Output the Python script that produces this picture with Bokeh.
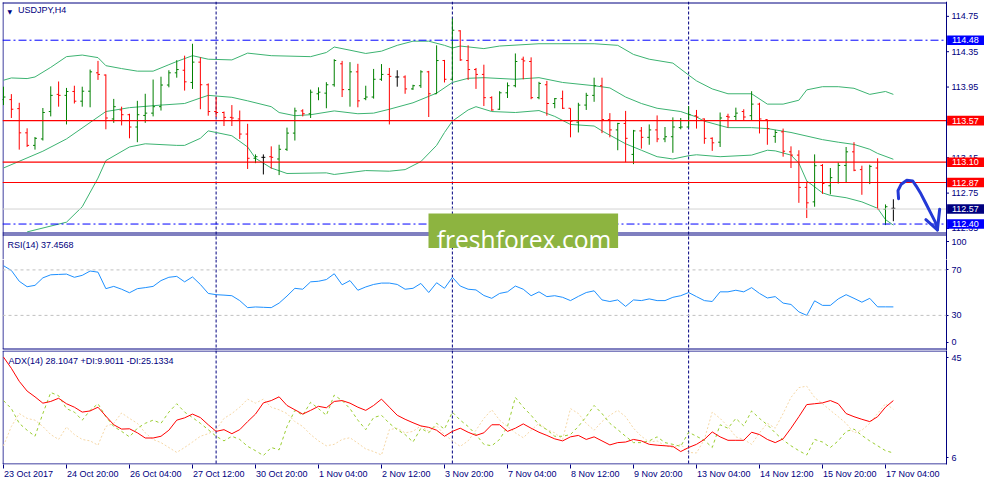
from bokeh.plotting import figure
from bokeh.models import Range1d, FixedTicker, Span, Label, ColumnDataSource, LinearAxis
from bokeh.layouts import column
from bokeh.embed import file_html
from bokeh.resources import INLINE
from bokeh.core.properties import value

# ---------------- data (USDJPY H4, bar index 0 = 23 Oct 2017 12:00) ----------------
bar_open = [113.808, 113.808, 113.706, 113.432, 113.290, 113.363, 113.673, 113.867, 113.856, 113.900,
            113.790, 113.903, 114.111, 114.086, 113.589, 113.691, 113.637, 113.498, 113.629, 113.655,
            113.728, 113.973, 114.111, 114.140, 114.002, 114.232, 113.976, 113.673, 113.662, 113.607,
            113.589, 113.418, 113.144, 113.155, 113.162, 113.136, 113.246, 113.429, 113.680, 113.648,
            113.874, 113.881, 113.976, 114.213, 113.921, 114.122, 113.819, 113.837, 114.038, 114.093,
            114.064, 114.064, 113.929, 113.965, 114.122, 113.874, 114.250, 114.038, 114.586, 114.250,
            114.148, 114.093, 113.830, 113.699, 113.885, 113.965, 114.265, 114.239, 113.830, 113.976,
            113.764, 113.819, 113.710, 113.553, 113.746, 113.856, 113.965, 113.582, 113.465, 113.538,
            113.188, 113.454, 113.381, 113.465, 113.363, 113.388, 113.491, 113.498, 113.626, 113.589,
            113.370, 113.326, 113.618, 113.618, 113.673, 113.626, 113.757, 113.582, 113.392, 113.443,
            113.217, 113.180, 112.815, 112.651, 113.063, 112.833, 112.870, 113.063, 113.217, 113.016,
            112.870, 113.034, 112.567, 112.578]
bar_high = [113.954, 113.870, 113.772, 113.483, 113.385, 113.713, 113.958, 114.013, 113.940, 113.965,
            113.954, 114.148, 114.246, 114.093, 113.816, 113.728, 113.648, 113.794, 113.874, 114.035,
            114.067, 114.140, 114.254, 114.305, 114.440, 114.286, 113.991, 113.837, 113.673, 113.746,
            113.684, 113.534, 113.188, 113.188, 113.279, 113.297, 113.491, 113.717, 113.699, 113.921,
            113.947, 114.005, 114.265, 114.246, 114.232, 114.213, 113.965, 114.155, 114.210, 114.166,
            114.140, 114.082, 113.976, 114.140, 114.133, 114.422, 114.257, 114.725, 114.593, 114.422,
            114.166, 114.203, 113.845, 113.903, 114.002, 114.330, 114.294, 114.286, 114.009, 114.020,
            113.826, 113.910, 113.710, 113.772, 113.885, 114.056, 114.056, 113.655, 113.545, 113.680,
            113.465, 113.498, 113.527, 113.629, 113.498, 113.607, 113.600, 113.735, 113.691, 113.595,
            113.381, 113.662, 113.648, 113.717, 113.699, 113.903, 113.772, 113.582, 113.465, 113.480,
            113.279, 113.235, 112.881, 113.188, 113.078, 113.034, 113.096, 113.272, 113.326, 113.060,
            113.071, 113.144, 112.622, 112.680]
bar_low = [113.746, 113.600, 113.242, 113.272, 113.242, 113.345, 113.618, 113.728, 113.527, 113.764,
           113.728, 113.721, 114.031, 113.472, 113.545, 113.516, 113.370, 113.326, 113.545, 113.618,
           113.684, 113.947, 114.056, 113.910, 113.929, 113.699, 113.626, 113.611, 113.509, 113.509,
           113.363, 113.023, 113.089, 112.961, 113.027, 112.954, 113.228, 113.345, 113.618, 113.600,
           113.801, 113.710, 113.954, 113.837, 113.728, 113.721, 113.801, 113.819, 114.020, 113.527,
           113.954, 113.874, 113.918, 113.940, 113.611, 113.874, 114.002, 114.020, 114.246, 114.031,
           113.929, 113.735, 113.680, 113.691, 113.826, 113.947, 114.038, 113.812, 113.812, 113.626,
           113.710, 113.702, 113.381, 113.436, 113.691, 113.783, 113.429, 113.381, 113.235, 113.100,
           113.078, 113.253, 113.297, 113.326, 113.326, 113.206, 113.472, 113.491, 113.480, 113.308,
           113.228, 113.272, 113.491, 113.575, 113.575, 113.575, 113.425, 113.297, 113.319, 113.162,
           113.034, 112.640, 112.468, 112.596, 112.742, 112.735, 112.859, 112.870, 112.998, 112.731,
           112.852, 112.567, 112.388, 112.432]
bar_close = [113.837, 113.699, 113.432, 113.290, 113.370, 113.662, 113.856, 113.856, 113.900, 113.790,
             113.903, 114.122, 114.093, 113.600, 113.728, 113.637, 113.498, 113.637, 113.655, 113.728,
             113.973, 114.111, 114.148, 114.009, 114.232, 113.976, 113.673, 113.662, 113.607, 113.600,
             113.418, 113.144, 113.162, 113.155, 113.155, 113.246, 113.429, 113.680, 113.648, 113.892,
             113.892, 113.976, 114.250, 113.921, 114.122, 113.794, 113.837, 114.038, 114.093, 114.071,
             114.064, 113.929, 113.965, 114.122, 113.874, 114.250, 114.038, 114.593, 114.257, 114.148,
             114.093, 113.830, 113.691, 113.885, 113.965, 114.239, 114.246, 113.830, 113.991, 113.764,
             113.819, 113.710, 113.564, 113.746, 113.856, 113.965, 113.582, 113.465, 113.538, 113.370,
             113.454, 113.381, 113.465, 113.363, 113.388, 113.498, 113.498, 113.637, 113.611, 113.370,
             113.319, 113.600, 113.611, 113.655, 113.611, 113.757, 113.589, 113.480, 113.436, 113.224,
             113.180, 112.815, 112.640, 113.060, 112.859, 112.925, 113.063, 113.217, 113.009, 112.870,
             113.052, 112.567, 112.596, 112.578]

bb_up_x = [0, 1, 3, 4, 6, 8, 10, 12, 13, 15, 17, 19, 21, 22, 24, 26, 29, 31, 34, 39, 41, 42, 44, 46, 48, 50,
           52, 54, 56, 57, 58, 61, 63, 68, 75, 78, 80, 82, 85, 87, 88, 90, 92, 95, 97, 99, 101, 102, 104,
           106, 108, 110, 112, 113]
bb_up = [114.027, 114.053, 114.046, 114.064, 114.173, 114.294, 114.312, 114.283, 114.192, 114.159, 114.130,
         114.130, 114.203, 114.239, 114.305, 114.265, 114.257, 114.334, 114.305, 114.294, 114.341, 114.403,
         114.367, 114.330, 114.356, 114.422, 114.469, 114.469, 114.422, 114.392, 114.414, 114.385, 114.414,
         114.440, 114.440, 114.422, 114.319, 114.265, 114.221, 114.086, 114.020, 113.929, 113.874, 113.874,
         113.757, 113.757, 113.801, 113.918, 113.954, 113.954, 113.936, 113.867, 113.900, 113.867]
bb_mid_x = [0, 5, 8, 12, 13, 16, 20, 23, 25, 26, 29, 31, 34, 35, 37, 39, 42, 45, 47, 49, 52, 55, 57, 59, 61,
            65, 68, 71, 75, 77, 79, 81, 83, 86, 88, 89, 92, 95, 97, 100, 104, 106, 108, 110, 111, 113]
bb_mid = [113.034, 113.224, 113.363, 113.611, 113.673, 113.717, 113.746, 113.764, 113.826, 113.856, 113.834,
          113.794, 113.728, 113.662, 113.626, 113.637, 113.680, 113.648, 113.655, 113.699, 113.772, 113.881,
          114.002, 114.049, 114.056, 114.038, 114.056, 114.002, 113.965, 113.940, 113.837, 113.764, 113.710,
          113.673, 113.611, 113.564, 113.491, 113.491, 113.480, 113.436, 113.355, 113.326, 113.301, 113.246,
          113.199, 113.133]
# lower band: first visible point (it runs below the price window before bar 3)
bb_low_x = [3, 8, 10, 12, 13, 16, 18, 22, 23, 25, 26, 29, 31, 32, 34, 36, 41, 42, 46, 49, 51, 53, 55, 56,
            57, 59, 60, 62, 65, 68, 70, 72, 75, 76, 79, 81, 83, 85, 87, 88, 91, 95, 97, 98, 100, 101, 102,
            104, 105, 107, 109, 111, 112, 113]
bb_low = [112.311, 112.421, 112.596, 112.920, 113.118, 113.272, 113.308, 113.290, 113.290, 113.370,
          113.454, 113.399, 113.272, 113.144, 113.034, 112.972, 112.979, 112.961, 113.005, 112.998, 113.016,
          113.107, 113.290, 113.436, 113.564, 113.691, 113.728, 113.673, 113.662, 113.684, 113.618, 113.527,
          113.509, 113.454, 113.308, 113.235, 113.162, 113.136, 113.173, 113.184, 113.162, 113.180, 113.235,
          113.228, 113.180, 113.089, 112.888, 112.753, 112.724, 112.698, 112.651, 112.578, 112.450, 112.388]

rsi = [73.7, 69.5, 60.0, 55.2, 56.4, 63.0, 65.7, 66.0, 66.3, 63.5,
       65.2, 69.0, 68.0, 53.5, 55.5, 53.0, 49.9, 53.5, 54.4, 55.5,
       60.6, 63.5, 64.3, 59.5, 63.8, 57.2, 49.3, 48.2, 47.8, 47.3,
       43.0, 36.8, 37.4, 37.1, 36.8, 40.8, 47.0, 53.8, 53.0, 59.5,
       60.0, 61.5, 66.6, 56.9, 60.6, 52.1, 55.0, 57.2, 58.4, 58.4,
       57.2, 53.0, 53.8, 58.1, 50.1, 58.7, 53.8, 63.5, 55.8, 53.0,
       52.4, 47.5, 45.0, 49.3, 50.7, 55.8, 53.0, 47.3, 50.7, 46.5,
       47.3, 45.9, 43.0, 46.7, 50.1, 51.6, 43.6, 42.2, 43.6, 37.9,
       43.6, 43.0, 44.5, 43.0, 43.0, 45.9, 47.3, 50.1, 46.5, 43.0,
       42.2, 50.7, 50.7, 52.1, 50.7, 54.4, 49.3, 45.3, 46.5, 40.8,
       39.6, 33.1, 30.0, 42.8, 38.8, 38.8, 44.5, 48.2, 45.0, 41.6,
       45.0, 37.5, 37.5, 37.46]
adx = [43.2, 39.3, 34.8, 31.4, 29.4, 27.2, 27.8, 28.9, 27.0, 25.8,
       24.1, 24.5, 25.8, 22.7, 19.7, 18.2, 18.3, 16.9, 15.1, 15.1,
       15.7, 17.8, 21.3, 22.1, 23.4, 22.2, 19.7, 17.4, 18.0, 16.6,
       18.0, 20.8, 23.4, 27.3, 28.1, 29.4, 26.4, 24.9, 23.4, 24.7,
       26.1, 25.6, 27.8, 28.1, 27.2, 25.8, 24.7, 26.4, 28.6, 25.8,
       23.0, 21.6, 20.4, 19.3, 18.8, 17.8, 15.7, 17.4, 18.5, 17.1,
       16.0, 16.9, 19.7, 19.7, 17.4, 18.5, 20.0, 18.5, 17.1, 16.0,
       14.8, 14.1, 15.5, 16.0, 14.6, 15.5, 14.1, 12.7, 13.5, 13.7,
       14.6, 14.1, 12.9, 12.6, 12.4, 12.2, 10.4, 11.8, 12.9, 14.6,
       17.2, 15.5, 14.3, 14.3, 14.3, 17.1, 16.3, 14.6, 13.5, 14.8,
       18.5, 22.5, 26.7, 27.0, 27.3, 28.1, 27.0, 23.6, 22.5, 21.6,
       20.8, 22.5, 25.8, 28.1]
plus_di = [28.1, 25.3, 20.2, 17.8, 15.7, 23.6, 30.9, 29.8, 25.3, 24.1,
           21.3, 24.7, 27.0, 22.5, 19.1, 17.4, 15.5, 18.5, 20.2, 21.3,
           20.2, 24.1, 27.0, 24.1, 22.2, 20.2, 18.0, 15.7, 14.1, 15.7,
           14.6, 12.2, 10.7, 9.0, 11.8, 11.0, 19.1, 24.7, 23.0, 27.5,
           25.3, 23.0, 30.0, 28.1, 25.3, 21.3, 18.0, 22.2, 23.0, 20.2,
           18.0, 16.3, 13.7, 18.5, 16.9, 20.2, 18.2, 24.1, 21.3, 19.1,
           16.3, 12.9, 12.4, 14.6, 19.1, 29.2, 25.8, 23.0, 19.7, 18.0,
           15.7, 15.7, 16.3, 19.1, 22.5, 26.4, 23.6, 20.2, 18.0, 15.7,
           13.5, 13.5, 14.1, 15.5, 13.5, 12.9, 12.2, 17.1, 15.7, 14.3,
           11.8, 19.7, 18.5, 21.9, 19.3, 24.5, 21.9, 19.7, 16.9, 14.4,
           12.4, 10.7, 9.2, 14.6, 13.7, 11.8, 14.1, 17.4, 18.2, 16.0,
           14.1, 12.4, 10.7, 9.9]
minus_di = [12.4, 19.1, 23.6, 21.9, 21.3, 19.1, 16.3, 14.6, 18.9, 16.3,
            14.6, 14.1, 12.6, 19.1, 20.2, 23.8, 21.9, 20.2, 16.9, 14.6,
            13.5, 11.8, 10.1, 11.8, 13.7, 15.7, 16.6, 18.0, 21.9, 23.6,
            25.8, 28.6, 27.2, 28.6, 25.8, 24.9, 23.6, 20.8, 19.1, 16.3,
            14.1, 12.4, 12.9, 14.6, 15.2, 13.3, 11.3, 10.4, 9.2, 18.0,
            18.5, 16.9, 17.4, 19.3, 17.4, 19.3, 16.3, 14.1, 12.2, 14.1,
            17.8, 21.9, 24.9, 21.3, 19.1, 16.9, 15.2, 17.8, 20.2, 18.0,
            16.9, 14.6, 25.3, 23.6, 20.2, 17.8, 20.8, 23.0, 24.7, 22.5,
            18.5, 15.7, 13.7, 14.1, 12.4, 11.8, 12.9, 10.1, 9.9, 14.6,
            24.1, 21.9, 19.1, 15.5, 14.6, 12.9, 16.9, 20.2, 18.5, 23.6,
            29.2, 32.6, 33.1, 29.2, 27.0, 24.7, 22.5, 20.2, 16.9, 17.8,
            20.2, 23.6, 27.0, 25.1]

x_tick_idx = [0, 8, 16, 24, 32, 40, 48, 56, 64, 72, 80, 88, 96, 104, 112]
x_tick_labels = ["23 Oct 2017", "24 Oct 20:00", "26 Oct 04:00", "27 Oct 12:00", "30 Oct 20:00",
                 "1 Nov 04:00", "2 Nov 12:00", "3 Nov 20:00", "7 Nov 04:00", "8 Nov 12:00",
                 "9 Nov 20:00", "13 Nov 04:00", "14 Nov 12:00", "15 Nov 20:00", "17 Nov 04:00"]
week_separators = [27, 57, 87]
price_ticks = [114.75, 114.35, 113.95, 113.55, 113.15, 112.75, 112.35]
red_levels = [113.57, 113.10, 112.87]
blue_levels = [114.48, 112.40]
bid_price = 112.57
rsi_levels = [70, 30]

# hand-drawn forecast arrow (bar index, price)
arrow_x = [113.66, 113.59, 114.0, 114.71, 115.46, 115.88, 116.5, 117.13, 117.75, 118.38, 118.59]
arrow_y = [112.687, 112.778, 112.851, 112.895, 112.887, 112.833, 112.742, 112.632, 112.523, 112.413, 112.333]
arrow_head_x = [117.13, 118.59, 118.88]
arrow_head_y = [112.449, 112.333, 112.567]

# ---------------- layout geometry (page pixels) ----------------
NAVY = "#000080"
FONT = "Liberation Sans"
LEFT = 2
FRAME_W = 944
PPX = 7.875                       # pixels per bar
X0 = -0.125
X1 = X0 + FRAME_W / PPX
X1_EXT = X0 + 982 / PPX           # price canvas also covers its label column
P_PER_PX = 2.625 / 232            # price units per pixel
R_PER_PX = 102.88 / 117           # RSI units per pixel
STRIP_END = 259                   # price canvas also holds the RSI header strip (rows 233..259)
P_HI = 114.918
P_LO = P_HI - (STRIP_END - 1) * P_PER_PX
R_LO = -0.88
R_HI = R_LO + (350 - STRIP_END) * R_PER_PX
A_LO, A_HI = 5.9, 45.49
GEOM = {1: (1, STRIP_END - 1, P_LO, P_HI), 2: (STRIP_END, 350 - STRIP_END, R_LO, R_HI),
        3: (350, 114, A_LO, A_HI)}


def ix(px):
    return X0 + (px - LEFT) / PPX


def fy(f, py):
    top, h, lo, hi = GEOM[f]
    return hi - (py - top) / h * (hi - lo)


def base_fig(f, frame_w, x1, bottom, right, xloc=None, yloc=None):
    top, h, lo, hi = GEOM[f]
    p = figure(frame_width=frame_w, frame_height=h,
               x_range=Range1d(X0, x1), y_range=Range1d(lo, hi),
               toolbar_location=None, output_backend="svg",
               x_axis_location=xloc, y_axis_location=yloc,
               min_border_left=LEFT, min_border_right=right,
               min_border_top=1 if f == 1 else 0, min_border_bottom=bottom,
               background_fill_color="white", border_fill_color="white")
    p.grid.visible = False
    p.outline_line_color = None
    for s in week_separators:
        p.add_layout(Span(location=s, dimension="height", line_color=NAVY, line_width=1,
                          line_dash="3 2", level="underlay"))
    return p


def hline(p, f, py, x_right=946):
    y = fy(f, py)
    p.segment(x0=[ix(LEFT)], y0=[y], x1=[ix(x_right)], y1=[y], line_color=NAVY, line_width=1)


def vline_left(p, f, py0, py1):
    x = ix(LEFT + 0.5)
    p.segment(x0=[x], y0=[fy(f, py0)], x1=[x], y1=[fy(f, py1)], line_color=NAVY, line_width=1)


def style_right_axis(ax):
    ax.axis_line_color = NAVY
    ax.major_tick_line_color = NAVY
    ax.minor_tick_line_color = None
    ax.major_tick_out = 2
    ax.major_tick_in = 0
    ax.major_label_standoff = 3
    ax.major_label_text_font = FONT
    ax.major_label_text_font_size = "9px"
    ax.major_label_text_color = NAVY


# ================= price panel (+ RSI header strip) =================
p1 = base_fig(1, 982, X1_EXT, 0, 0)
vline_left(p1, 1, 2, STRIP_END)
hline(p1, 1, 2.5)        # price panel top border
hline(p1, 1, 232.5)      # price panel bottom border
hline(p1, 1, 234.5)      # RSI panel top border

idx = list(range(len(bar_close)))
colors = ["#008000" if c > o else ("#ff0000" if c < o else "black") for o, c in zip(bar_open, bar_close)]
src = ColumnDataSource(dict(x=idx, xl=[i - 0.25 for i in idx], xr=[i + 0.25 for i in idx],
                            o=bar_open, h=bar_high, l=bar_low, c=bar_close, color=colors))

p1.line(bb_up_x, bb_up, line_color="#3cb371", line_width=1)
p1.line(bb_mid_x, bb_mid, line_color="#3cb371", line_width=1)
p1.line(bb_low_x, bb_low, line_color="#3cb371", line_width=1)

p1.segment(x0="x", y0="l", x1="x", y1="h", line_color="color", line_width=1, source=src)
p1.segment(x0="xl", y0="o", x1="x", y1="o", line_color="color", line_width=1, source=src)
p1.segment(x0="x", y0="c", x1="xr", y1="c", line_color="color", line_width=1, source=src)

x_axis_line = ix(946)
p1.segment(x0=[X0], y0=[bid_price], x1=[x_axis_line], y1=[bid_price], line_color="#d3d3d3", line_width=1)
p1.segment(x0=[X0] * len(red_levels), y0=red_levels, x1=[x_axis_line] * len(red_levels), y1=red_levels,
           line_color="#ff0000", line_width=1.2)
p1.segment(x0=[X0] * len(blue_levels), y0=blue_levels, x1=[x_axis_line] * len(blue_levels), y1=blue_levels,
           line_color="#0000ff", line_width=1, line_dash="8 3 2 3")

p1.line(arrow_x, arrow_y, line_color="#2439d6", line_width=3, line_cap="round", line_join="round")
p1.line(arrow_head_x, arrow_head_y, line_color="#2439d6", line_width=3, line_cap="round", line_join="round")

# watermark (covers the border between the price and RSI panels)
p1.quad(left=[ix(428)], right=[ix(617.6)], top=[fy(1, 213)], bottom=[fy(1, 247.5)],
        fill_color="#8db440", line_color=None)
p1.text(x=[ix(436.2)], y=[fy(1, 238.8)], text=["freshforex.com"], text_color="white",
        text_font=value("Open Sans"), text_font_size="24.6px", text_align="left", text_baseline="alphabetic")

# price scale on the right
p1.segment(x0=[x_axis_line], y0=[P_LO], x1=[x_axis_line], y1=[P_HI], line_color=NAVY, line_width=1)
p1.segment(x0=[x_axis_line] * len(price_ticks), y0=price_ticks, x1=[ix(948.5)] * len(price_ticks),
           y1=price_ticks, line_color=NAVY, line_width=1)
p1.text(x=[ix(951)] * len(price_ticks), y=price_ticks, text=["%.2f" % t for t in price_ticks],
        text_color=NAVY, text_font=value(FONT), text_font_size="9px",
        text_align="left", text_baseline="middle")

box_levels = [114.48, 113.57, 113.10, 112.87, bid_price, 112.40]
box_colors = ["#0000ff", "#ff0000", "#ff0000", "#ff0000", "#000080", "#0000ff"]
half_box = 4.8 * P_PER_PX
p1.quad(left=[ix(946.6)] * 6, right=[ix(983.6)] * 6,
        top=[v + half_box for v in box_levels], bottom=[v - half_box for v in box_levels],
        fill_color=box_colors, line_color=None)
p1.text(x=[ix(951.5)] * 6, y=box_levels, text=["%.2f" % v for v in box_levels],
        text_color="white", text_font=value(FONT), text_font_size="9px",
        text_align="left", text_baseline="middle")

# RSI scale top label ("100") lives in this strip
rsi_top_y = fy(1, 241.0)
p1.segment(x0=[x_axis_line], y0=[rsi_top_y], x1=[ix(948.5)], y1=[rsi_top_y], line_color=NAVY, line_width=1)
p1.text(x=[ix(951)], y=[rsi_top_y], text=["100"], text_color=NAVY, text_font=value(FONT),
        text_font_size="9px", text_align="left", text_baseline="middle")

p1.add_layout(Label(x=ix(9.3), y=fy(1, 10.6), text="\u25bc", text_color=NAVY,
                    text_font="DejaVu Sans", text_font_size="6px",
                    text_align="center", text_baseline="middle"))
p1.add_layout(Label(x=ix(17.5), y=fy(1, 9.8), text="USDJPY,H4", text_color=NAVY,
                    text_font=FONT, text_font_size="9px", text_align="left", text_baseline="middle"))
p1.add_layout(Label(x=ix(6.9), y=fy(1, 244.3), text="RSI(14) 37.4568", text_color=NAVY,
                    text_font=FONT, text_font_size="9px", text_align="left", text_baseline="middle"))

# ================= RSI panel =================
p2 = base_fig(2, FRAME_W, X1, 0, 38, yloc="right")
style_right_axis(p2.yaxis[0])
rsi_tick_pos = [70, 30, round(fy(2, 341.7), 2)]
p2.yaxis[0].ticker = FixedTicker(ticks=rsi_tick_pos)
p2.yaxis[0].major_label_overrides = dict(zip(rsi_tick_pos, ["70", "30", "0"]))
vline_left(p2, 2, STRIP_END, 348.5)
hline(p2, 2, 348.5)
for lv in rsi_levels:
    p2.add_layout(Span(location=lv, dimension="width", line_color="#c0c0c0", line_width=1, line_dash="3 3"))
p2.line(idx, rsi, line_color="#1e90ff", line_width=1)

# ================= ADX panel =================
p3 = base_fig(3, FRAME_W, X1, 20, 38, xloc="below", yloc="right")
style_right_axis(p3.yaxis[0])
adx_tick_pos = [round(fy(3, 357.2), 2), round(fy(3, 457.2), 2)]
p3.yaxis[0].ticker = FixedTicker(ticks=adx_tick_pos)
p3.yaxis[0].major_label_overrides = dict(zip(adx_tick_pos, ["45", "6"]))
vline_left(p3, 3, 350.5, 463.5)
hline(p3, 3, 350.5)
hline(p3, 3, 463.5)

# tick marks (first axis) + left-aligned date labels (second axis)
xa = p3.xaxis[0]
xa.ticker = FixedTicker(ticks=x_tick_idx)
xa.major_label_overrides = {t: "" for t in x_tick_idx}
xa.major_label_text_font_size = "0px"
xa.major_label_standoff = 0
xa.axis_line_color = None
xa.major_tick_line_color = NAVY
xa.minor_tick_line_color = None
xa.major_tick_out = 4
xa.major_tick_in = 0

CHAR_W = {" ": 0.278, ":": 0.278, "O": 0.778, "c": 0.5, "t": 0.278, "N": 0.722, "o": 0.556, "v": 0.5}
LABEL_FS = 9
label_pos = []
for t, s in zip(x_tick_idx, x_tick_labels):
    w = sum(CHAR_W.get(ch, 0.556) for ch in s) * LABEL_FS
    label_pos.append(round(t + (0.5 + w / 2) / PPX, 3))
xb = LinearAxis(ticker=FixedTicker(ticks=label_pos),
                major_label_overrides=dict(zip(label_pos, x_tick_labels)))
xb.axis_line_color = None
xb.major_tick_line_color = None
xb.minor_tick_line_color = None
xb.major_tick_out = 0
xb.major_tick_in = 0
xb.major_label_standoff = 0
xb.major_label_text_font = FONT
xb.major_label_text_font_size = "%gpx" % LABEL_FS
xb.major_label_text_color = NAVY
p3.add_layout(xb, "below")

p3.line(idx, minus_di, line_color="#f5d7a6", line_width=1, line_dash="2 2")
p3.line(idx, plus_di, line_color="#9acd32", line_width=1, line_dash="3 3")
p3.line(idx, adx, line_color="#ff0000", line_width=1)
p3.add_layout(Label(x=ix(7.9), y=fy(3, 360.2), text="ADX(14) 28.1047 +DI:9.9011 -DI:25.1334",
                    text_color=NAVY, text_font=FONT, text_font_size="9px",
                    text_align="left", text_baseline="middle"))

layout = column(p1, p2, p3, spacing=0)
open("out.html", "w").write(file_html(layout, INLINE))
